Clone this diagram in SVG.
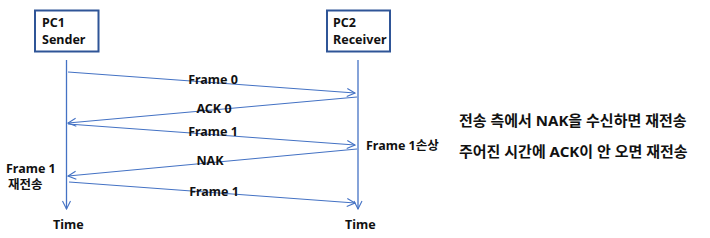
<svg xmlns="http://www.w3.org/2000/svg" width="710" height="238" viewBox="0 0 710 238">
<style>
text{font-family:"Noto Sans","Noto Sans CJK KR",sans-serif;font-weight:bold;fill:#111;}
.lbl{font-size:12.5px;text-anchor:middle;}
.t{font-size:12.5px;}
.hd{font-size:12.5px;}
.box{fill:#fff;stroke:#2F5597;stroke-width:2;}
.msg{stroke:#4472C4;stroke-width:1.1;fill:none;marker-end:url(#ah);}
.life{stroke:#4472C4;stroke-width:1.3;fill:none;marker-end:url(#ah);}
</style>
<defs>
<marker id="ah" viewBox="0 0 10 10" refX="9" refY="5" markerWidth="10" markerHeight="10" markerUnits="userSpaceOnUse" orient="auto">
<path d="M1,1 L9,5 L1,9" fill="none" stroke="#4472C4" stroke-width="1.1"/>
</marker>
</defs>
<rect width="710" height="238" fill="#fff"/>
<g id="pc1">
<rect class="box" x="35" y="10.5" width="63.5" height="41"/>
<text class="hd" x="42" y="27">PC1</text>
<text class="hd" x="42" y="44">Sender</text>
</g>
<g id="pc2">
<rect class="box" x="327" y="10.5" width="63" height="41"/>
<text class="hd" x="333" y="27">PC2</text>
<text class="hd" x="333" y="44">Receiver</text>
</g>
<g id="connectors">
<line class="life" x1="66.5" y1="60" x2="66.5" y2="209"/>
<line class="life" x1="358" y1="60" x2="358" y2="209"/>
<line class="msg" x1="68" y1="72" x2="355" y2="93"/>
<line class="msg" x1="357" y1="97" x2="68" y2="123"/>
<line class="msg" x1="68" y1="124" x2="355" y2="145"/>
<line class="msg" x1="357" y1="149" x2="68" y2="176"/>
<line class="msg" x1="69" y1="182" x2="355" y2="203"/>
</g>
<g id="labels">
<text class="lbl" x="213" y="84">Frame 0</text>
<text class="lbl" x="214" y="113">ACK 0</text>
<text class="lbl" x="213" y="136">Frame 1</text>
<text class="lbl" x="210" y="165">NAK</text>
<text class="lbl" x="214" y="196">Frame 1</text>
<text class="t" x="6" y="173">Frame 1</text>
<text class="t" x="8" y="189">재전송</text>
<text class="t" x="53" y="229">Time</text>
<text class="t" x="345" y="229">Time</text>
<text class="t" x="366" y="150">Frame 1손상</text>
<text x="459" y="126" font-size="15">전송 측에서 NAK을 수신하면 재전송</text>
<text x="459" y="157" font-size="15">주어진 시간에 ACK이 안 오면 재전송</text>
</g>
</svg>
